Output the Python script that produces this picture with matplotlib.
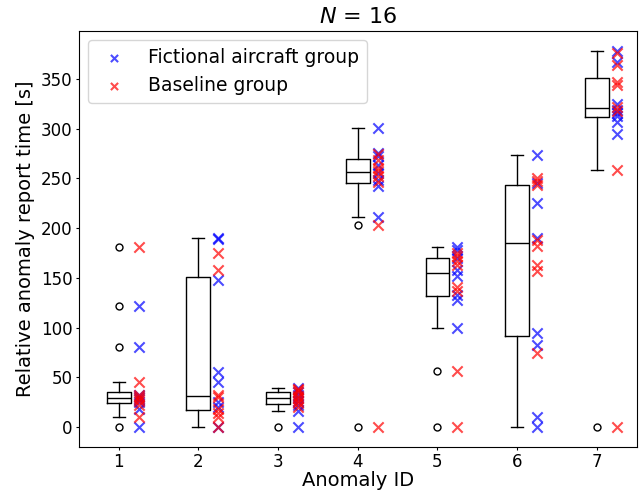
import numpy as np
import matplotlib.pyplot as plt

anomaly_ids = [1, 2, 3, 4, 5, 6, 7]

# report times [s] per anomaly, 8 participants per group
fictional = [
    [122, 81, 32, 30, 28, 25, 18, 0],
    [190, 189, 148, 55, 45, 25, 20, 0],
    [39, 35, 32, 29, 26, 22, 16, 0],
    [301, 276, 272, 263, 255, 248, 242, 211],
    [181, 178, 170, 158, 152, 133, 128, 100],
    [273, 245, 225, 190, 95, 83, 10, 0],
    [378, 367, 325, 319, 316, 313, 307, 295],
]
baseline = [
    [181, 45, 32, 30, 28, 26, 22, 10],
    [175, 158, 32, 30, 18, 14, 10, 0],
    [38, 37, 35, 31, 29, 26, 24, 20],
    [274, 268, 260, 257, 252, 246, 203, 0],
    [175, 172, 167, 163, 141, 137, 57, 0],
    [250, 247, 243, 188, 182, 163, 157, 75],
    [376, 364, 347, 344, 322, 318, 258, 0],
]

combined = [f + b for f, b in zip(fictional, baseline)]

fig = plt.figure(figsize=(6.4, 4.93), dpi=100)
ax = fig.add_axes([0.123, 0.093, 0.872, 0.844])

ax.boxplot(combined, positions=anomaly_ids, widths=0.3,
           medianprops=dict(color='black'),
           flierprops=dict(marker='o', markersize=5, markerfacecolor='none'))

offset = 0.25
for i, aid in enumerate(anomaly_ids):
    ax.scatter([aid + offset] * len(fictional[i]), fictional[i], marker='x',
               color='blue', alpha=0.7, s=55,
               label='Fictional aircraft group' if i == 0 else None)
    ax.scatter([aid + offset] * len(baseline[i]), baseline[i], marker='x',
               color='red', alpha=0.7, s=55,
               label='Baseline group' if i == 0 else None)

ax.set_xlim(0.5, 7.5)
ax.set_ylim(-20, 398)
ax.set_xticks(anomaly_ids)
ax.set_xticklabels([str(a) for a in anomaly_ids])
ax.tick_params(labelsize=12, length=2.5, pad=2)
ax.set_xlabel('Anomaly ID', fontsize=14, labelpad=0)
ax.set_ylabel('Relative anomaly report time [s]', fontsize=14)
ax.set_title('$N$ = 16', fontsize=16)
ax.legend(loc='upper left', fontsize=13.5, markerscale=0.7)

plt.savefig('out.png')
